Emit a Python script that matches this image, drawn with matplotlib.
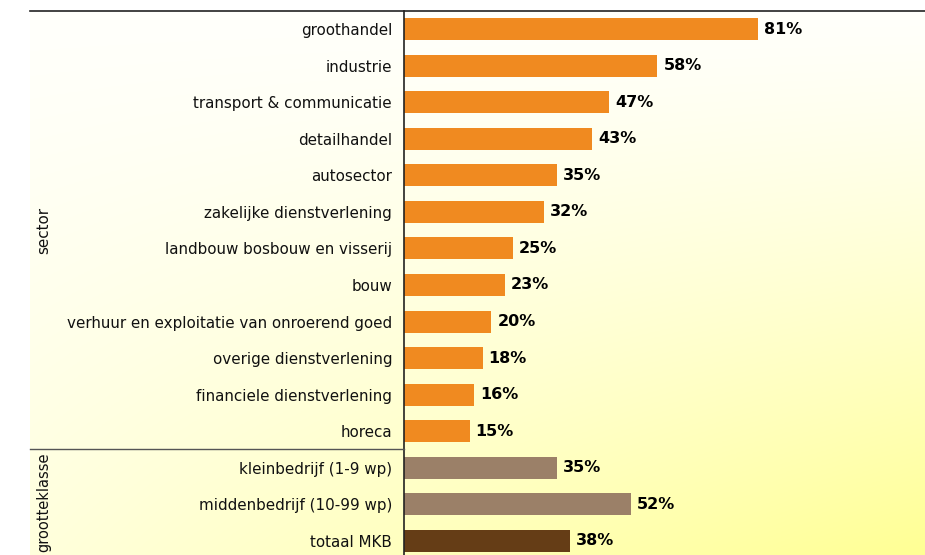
import numpy as np
import matplotlib
matplotlib.use('Agg')
import matplotlib.pyplot as plt
from matplotlib.lines import Line2D

# data
categories = ['groothandel', 'industrie', 'transport & communicatie', 'detailhandel',
              'autosector', 'zakelijke dienstverlening', 'landbouw bosbouw en visserij',
              'bouw', 'verhuur en exploitatie van onroerend goed', 'overige dienstverlening',
              'financiele dienstverlening', 'horeca',
              'kleinbedrijf (1-9 wp)', 'middenbedrijf (10-99 wp)', 'totaal MKB']
values = [81, 58, 47, 43, 35, 32, 25, 23, 20, 18, 16, 15, 35, 52, 38]
groups = ['sector'] * 12 + ['grootte'] * 2 + ['totaal']

colors = {'sector': '#F08A20', 'grootte': '#9B8068', 'totaal': '#653D16'}

W, H = 925, 555
fig = plt.figure(figsize=(W / 100, H / 100), dpi=100)

# gradient background (near white at top -> yellow towards bottom right)
top_px = 10.5
left_px = 30
bg = fig.add_axes([left_px / W, 0, 1 - left_px / W, 1 - top_px / H])
gx, gy = np.meshgrid(np.linspace(0, 1, 300), np.linspace(0, 1, 200))
t = np.clip(gy, 0, 1) ** 1.25 * (0.3 + 0.7 * gx)
c0 = np.array([1.0, 1.0, 0.985])
c1 = np.array([1.0, 1.0, 0.58])
img = c0[None, None, :] * (1 - t[..., None]) + c1[None, None, :] * t[..., None]
bg.imshow(img, aspect='auto', extent=[0, 1, 1, 0], origin='upper')
bg.axis('off')

# main axes
x0 = 404
ax = fig.add_axes([x0 / W, 0, 1 - x0 / W, 1 - top_px / H])
ax.patch.set_alpha(0)
px_per_pct = 4.37
row_h = 36.57
y_first = 29
ypos = np.arange(len(categories))
ax.barh(ypos, values, height=22 / row_h,
        color=[colors[g] for g in groups], zorder=2)
for y, v in zip(ypos, values):
    ax.text(v + 6 / px_per_pct, y, f'{v}%', va='center', ha='left',
            fontsize=11.5, fontweight='bold', color='black')

ax.set_xlim(0, (W - x0) / px_per_pct)
ax.set_ylim((H - y_first) / row_h, -(y_first - top_px) / row_h)
ax.set_yticks(ypos)
ax.set_yticklabels(categories, fontsize=10.9, color='#111111')
ax.tick_params(axis='y', length=0, pad=8.6)
ax.set_xticks([])
for s in ['top', 'right', 'bottom']:
    ax.spines[s].set_visible(False)
ax.spines['left'].set_color('#222222')
ax.spines['left'].set_linewidth(1.2)

# top rule and group separator
fig.add_artist(Line2D([left_px / W, 1], [1 - top_px / H] * 2, color='#222222', lw=1.2))
fig.add_artist(Line2D([left_px / W, x0 / W], [1 - 449 / H] * 2, color='#555555', lw=1.0))

# group labels
fig.text(44 / W, 1 - 230 / H, 'sector', rotation=90, ha='center', va='center',
         fontsize=10.9, color='#111111')
fig.text(44 / W, 1 - 453 / H, 'grootteklasse', rotation=90, ha='center', va='top',
         fontsize=10.5, color='#111111')

fig.savefig('out.png', dpi=100)
